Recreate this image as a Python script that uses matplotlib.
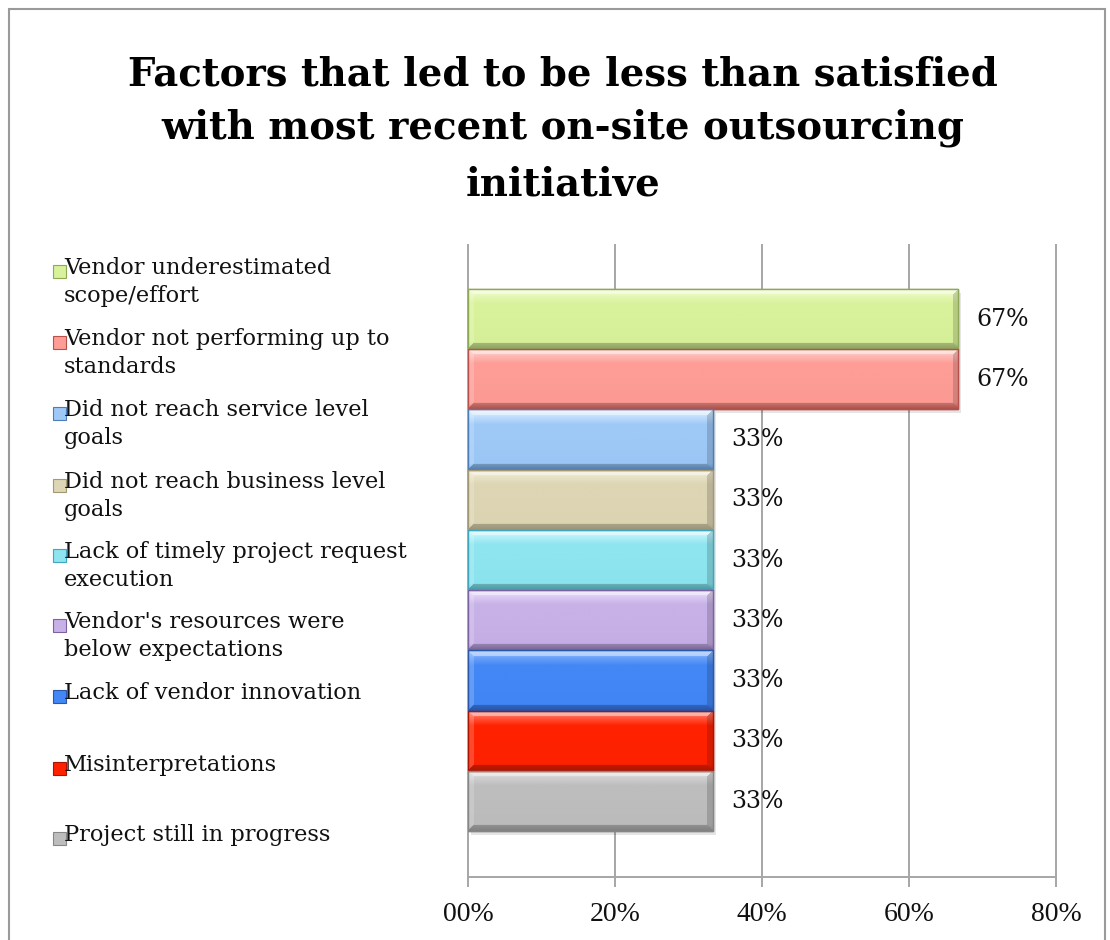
import numpy as np
import matplotlib
matplotlib.use("Agg")
import matplotlib.pyplot as plt
from matplotlib.patches import Rectangle
from matplotlib.ticker import FuncFormatter, MultipleLocator

# survey results, top bar first
factors = [
    "Vendor underestimated\nscope/effort",
    "Vendor not performing up to\nstandards",
    "Did not reach service level\ngoals",
    "Did not reach business level\ngoals",
    "Lack of timely project request\nexecution",
    "Vendor's resources were\nbelow expectations",
    "Lack of vendor innovation",
    "Misinterpretations",
    "Project still in progress",
]
shares = [0.667, 0.667, 0.333, 0.333, 0.333, 0.333, 0.333, 0.333, 0.333]

# (top, middle, bottom, edge) shades for each bar
shades = [
    ("#f3fcd2", "#d8f29b", "#b7d27a", "#8fa856"),
    ("#ffd6d2", "#fd9d96", "#e36a63", "#b8504b"),
    ("#dff2ff", "#9ec9f7", "#6ea1db", "#4d7db8"),
    ("#f3eed9", "#ddd5b3", "#c7be98", "#a29874"),
    ("#d8fbff", "#8ee5f0", "#5ec6d5", "#3fa6bd"),
    ("#efe2ff", "#c7b1e7", "#9c84c4", "#7b62a0"),
    ("#8fbaff", "#4287f5", "#2f6cdc", "#2a58a8"),
    ("#ff8a7a", "#ff2200", "#de1b00", "#aa1400"),
    ("#e2e2e2", "#bdbdbd", "#a6a6a6", "#878787"),
]

W, H = 1110, 940
fig = plt.figure(figsize=(W / 100, H / 100), dpi=100)
ax = fig.add_axes([468 / W, 1 - 877 / H, 588 / W, 632 / H])

n = len(factors)
ypos = np.arange(n)[::-1]
bar_h = 1.0
px_per_unit = 588 / 0.8


def hex_rgb(c):
    return np.array(matplotlib.colors.to_rgb(c))


def bevel_image(w, h, top, mid, bot, b=6):
    t = np.linspace(0, 1, h)[:, None]
    top, mid, bot = hex_rgb(top), hex_rgb(mid), hex_rgb(bot)
    mid2 = mid * 0.92 + bot * 0.08
    col = np.where(t < 0.5, top + (mid - top) * np.clip(t / 0.25, 0, 1),
                   mid + (mid2 - mid) * (t - 0.5) / 0.4)
    col = np.where(t > 0.9, mid2 + (bot - mid2) * (t - 0.9) / 0.1, col)
    img = np.repeat(col[:, None, :], w, axis=1)
    rr, cc = np.mgrid[0:h, 0:w]
    d = np.stack([rr, h - 1 - rr, cc, w - 1 - cc])
    side = d.argmin(axis=0)
    edge = d.min(axis=0) < b
    white, black = np.ones(3), np.zeros(3)
    mix = {0: (white, 0.45), 1: (black, 0.22), 2: (white, 0.18), 3: (black, 0.16)}
    for k, (c, a) in mix.items():
        m = edge & (side == k)
        img[m] = img[m] * (1 - a) + c * a
    return np.clip(img, 0, 1)


for y, v, (c_top, c_mid, c_bot, c_edge) in zip(ypos, shares, shades):
    # soft drop shadow
    ax.add_patch(Rectangle((0.004, y - bar_h / 2 - 0.06), v, bar_h,
                           facecolor="black", alpha=0.10, lw=0, zorder=2))
    bar = ax.barh(y, v, height=bar_h, color=c_mid, edgecolor=c_edge,
                  linewidth=1.0, zorder=3)[0]
    img = bevel_image(int(v * px_per_unit), 60, c_top, c_mid, c_bot)
    im = ax.imshow(img, extent=[0, v, y - bar_h / 2, y + bar_h / 2],
                   aspect="auto", zorder=3.5, interpolation="bilinear")
    im.set_clip_path(bar)
    ax.add_patch(Rectangle((0, y - bar_h / 2), v, bar_h, fill=False,
                           edgecolor=c_edge, lw=1.0, zorder=4))
    ax.text(v + 0.025, y, f"{v:.0%}", va="center", ha="left",
            fontsize=17, family="DejaVu Serif", color="#111111", zorder=5)

ax.set_xlim(0, 0.8)
ax.set_ylim(-1.26, n - 0.5 + 0.73)
ax.xaxis.set_major_locator(MultipleLocator(0.2))
ax.xaxis.set_major_formatter(FuncFormatter(lambda v, p: f"{v * 100:02.0f}%"))
ax.grid(axis="x", color="#a6a6a6", lw=1.4, zorder=0)
for gl in ax.get_xgridlines():
    gl.set_clip_on(False)
ax.set_yticks([])
for s in ["top", "left", "right"]:
    ax.spines[s].set_visible(False)
ax.spines["bottom"].set_color("#a6a6a6")
ax.spines["bottom"].set_linewidth(1.4)
ax.tick_params(axis="x", length=7, width=1.4, color="#a6a6a6", pad=11,
               labelsize=20, labelcolor="#111111")
for lab in ax.get_xticklabels():
    lab.set_family("Liberation Serif")
ax.set_axisbelow(True)

# title
title_lines = ["Factors that led to be less than satisfied",
               "with most recent on-site outsourcing",
               "initiative"]
for line, ty in zip(title_lines, [75, 128, 184]):
    fig.text(563 / W, 1 - ty / H, line, ha="center", va="center",
             fontsize=27.8, fontweight="bold", family="DejaVu Serif")

# legend, drawn by hand down the left side
leg_y = [271, 342, 413, 485, 555, 625, 696, 768, 838]
for label, ly, (c_top, c_mid, c_bot, c_edge) in zip(factors, leg_y, shades):
    fig.patches.append(Rectangle((53 / W, 1 - (ly + 7) / H), 13 / W, 13 / H,
                                 transform=fig.transFigure, facecolor=c_mid,
                                 edgecolor=c_edge, lw=0.8))
    fig.text(64 / W, 1 - (ly - 14) / H, label, ha="left", va="top",
             fontsize=16.2, family="DejaVu Serif", color="#111111",
             linespacing=1.35)

# chart frame
fig.patches.append(Rectangle((9 / W, -0.05), 1096 / W, 1 - 9 / H + 0.05,
                             transform=fig.transFigure, fill=False,
                             edgecolor="#9a9a9a", lw=1.5))

fig.savefig("out.png", dpi=100)
